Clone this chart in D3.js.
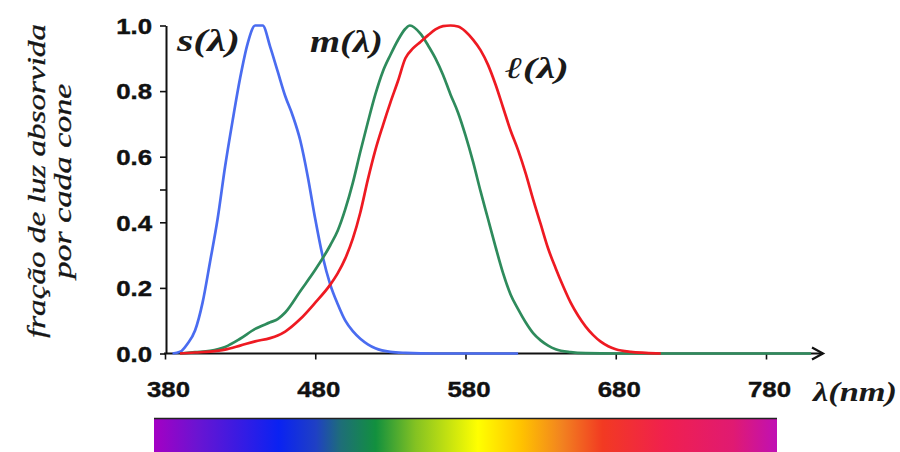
<!DOCTYPE html>
<html><head><meta charset="utf-8">
<script src="https://cdn.jsdelivr.net/npm/d3@7"></script>
<style>body{margin:0;background:#fff}svg{display:block}</style>
</head><body><svg id="c" width="900" height="452"></svg>
<script>
// ---- data ----
const xTicks = [380, 480, 580, 680, 780];
const yTicks = [0, 0.2, 0.4, 0.5, 0.6, 0.8, 1.0];
const yTickLabels = ["0.0", "0.2", "0.4", "", "0.6", "0.8", "1.0"];
const xTitle = "λ(nm)";
const yTitle = ["fração de luz absorvida", "por cada cone"];
const seriesNames = ["s(λ)", "m(λ)", "ℓ(λ)"];

const sWl  = [385,390,395,400,405,410,415,420,425,430,435,440,445,450,455,460,465,470,475,480,485,490,495,500,505,510,515,520,530,540,560,615];
const sVal = [0,0.005,0.03,0.07,0.155,0.28,0.41,0.57,0.71,0.84,0.945,1.0,1.0,0.935,0.86,0.785,0.725,0.65,0.54,0.41,0.295,0.21,0.15,0.10,0.068,0.045,0.028,0.016,0.005,0.002,0,0];

const mWl  = [390,400,410,420,430,440,450,455,460,470,480,490,495,500,505,510,515,520,525,530,535,540,543,550,555,560,565,570,575,580,585,590,595,600,605,610,615,620,625,630,635,640,650,660,680,810];
const mVal = [0,0.004,0.008,0.02,0.045,0.075,0.095,0.105,0.125,0.19,0.255,0.33,0.375,0.44,0.52,0.615,0.705,0.79,0.86,0.91,0.955,0.99,1.0,0.975,0.94,0.9,0.85,0.79,0.735,0.665,0.585,0.495,0.41,0.325,0.245,0.18,0.135,0.095,0.062,0.04,0.024,0.013,0.004,0.001,0,0];

const lWl  = [390,400,410,420,430,440,450,455,460,470,480,490,495,500,505,510,515,520,525,530,535,540,545,550,555,560,565,570,575,580,585,590,595,600,605,610,615,620,625,630,635,640,645,650,655,660,665,670,675,680,690,700,710];
const lVal = [0,0.003,0.006,0.012,0.024,0.037,0.047,0.055,0.067,0.105,0.155,0.21,0.245,0.29,0.35,0.43,0.53,0.62,0.695,0.765,0.83,0.9,0.93,0.95,0.97,0.988,0.998,1.0,0.997,0.982,0.957,0.925,0.88,0.82,0.75,0.68,0.62,0.55,0.47,0.395,0.32,0.26,0.205,0.155,0.115,0.082,0.056,0.036,0.022,0.013,0.005,0.002,0];

const spectrumStops = [
  [0, "#a400c4"], [0.07, "#6a14d2"], [0.2, "#0a22f2"], [0.26, "#1f40c4"],
  [0.3, "#1e6e78"], [0.356, "#12903e"], [0.42, "#84c222"], [0.52, "#ffff00"],
  [0.59, "#ffc200"], [0.655, "#f28220"], [0.72, "#f23a22"], [0.82, "#f0204e"],
  [0.93, "#e01a72"], [1, "#c010b4"]
];

// ---- drawing ----
const svg = d3.select("#c");
const x = d3.scaleLinear().domain([380, 780]).range([165, 766]);
const y = d3.scaleLinear().domain([0, 1]).range([353.5, 25.5]);
const labelFont = "'Liberation Sans', Arial, sans-serif";
const serif = "'Liberation Serif', 'Times New Roman', serif";

// Y axis
const yAx = svg.append("g").attr("transform", "translate(166,0)")
  .call(d3.axisLeft(y).tickValues(yTicks).tickSize(6).tickSizeOuter(0)
    .tickFormat((d, i) => yTickLabels[i]));
yAx.select(".domain").attr("stroke", "#111").attr("stroke-width", 2);
yAx.selectAll(".tick line").attr("stroke", "#111").attr("stroke-width", 1.6);
yAx.selectAll(".tick text")
  .attr("x", -11.6).attr("dy", "0.36em")
  .attr("transform", "scale(1.2,1)")
  .attr("font-family", labelFont).attr("font-weight", "bold")
  .attr("font-size", 21.5).attr("fill", "#111")
  .attr("stroke", "#111").attr("stroke-width", 0.4);

// X axis
const xAx = svg.append("g").attr("transform", "translate(0,353.5)")
  .call(d3.axisBottom(x).tickValues(xTicks).tickSize(6).tickSizeOuter(0)
    .tickFormat(d3.format("d")));
xAx.select(".domain").remove();
xAx.selectAll(".tick line").attr("stroke", "#111").attr("stroke-width", 1.6);
xAx.selectAll(".tick text")
  .attr("x", 2.5).attr("y", 43.5).attr("dy", null)
  .attr("transform", "scale(1.2,1)")
  .attr("font-family", labelFont).attr("font-weight", "bold")
  .attr("font-size", 21.5).attr("fill", "#111")
  .attr("stroke", "#111").attr("stroke-width", 0.4);

const axisEnd = x(780) + 57;
svg.append("line").attr("x1", x(380) - 1).attr("x2", axisEnd)
  .attr("y1", y(0)).attr("y2", y(0)).attr("stroke", "#111").attr("stroke-width", 2.2);
svg.append("path")
  .attr("d", `M${axisEnd - 11},${y(0) - 6} L${axisEnd},${y(0)} L${axisEnd - 11},${y(0) + 6}`)
  .attr("fill", "none").attr("stroke", "#111").attr("stroke-width", 2.2);

// curves
const line = d3.line().x(d => x(d[0])).y(d => y(d[1])).curve(d3.curveMonotoneX);
const series = [
  {wl: sWl, v: sVal, color: "#4a6cf0"},
  {wl: mWl, v: mVal, color: "#2e8b5c"},
  {wl: lWl, v: lVal, color: "#ee1a22"}
];
series.forEach(s => {
  svg.append("path").datum(s.wl.map((w, i) => [w, s.v[i]]))
    .attr("d", line).attr("fill", "none")
    .attr("stroke", s.color).attr("stroke-width", 2.7)
    .attr("stroke-linejoin", "round");
});

// series labels
const lbl = [
  {t: seriesNames[0], x: 177, y: 51, len: 63, size: 32},
  {t: seriesNames[1], x: 310, y: 52, len: 73, size: 32},
  {t: seriesNames[2], x: 505, y: 78, len: 64, size: 30}
];
lbl.forEach(l => {
  svg.append("text").text(l.t).attr("x", l.x).attr("y", l.y)
    .attr("font-family", serif).attr("font-style", "italic").attr("font-weight", "bold")
    .attr("font-size", l.size).attr("fill", "#1a1a1a")
    .attr("textLength", l.len).attr("lengthAdjust", "spacingAndGlyphs");
});

// x title
svg.append("text").text(xTitle).attr("x", 813).attr("y", 401)
  .attr("font-family", serif).attr("font-style", "italic").attr("font-weight", "bold")
  .attr("font-size", 28).attr("fill", "#1a1a1a")
  .attr("textLength", 84).attr("lengthAdjust", "spacingAndGlyphs");

// y title
const yt = [{t: yTitle[0], bx: 45, len: 314}, {t: yTitle[1], bx: 71, len: 195}];
yt.forEach(l => {
  svg.append("text").text(l.t)
    .attr("transform", `translate(${l.bx},181) rotate(-90)`)
    .attr("text-anchor", "middle")
    .attr("font-family", serif).attr("font-style", "italic")
    .attr("font-size", 26).attr("fill", "#161616")
    .attr("stroke", "#161616").attr("stroke-width", 0.3)
    .attr("textLength", l.len).attr("lengthAdjust", "spacingAndGlyphs");
});

// spectrum bar
const grad = svg.append("defs").append("linearGradient").attr("id", "spec")
  .attr("x1", "0%").attr("x2", "100%").attr("y1", "0%").attr("y2", "0%");
spectrumStops.forEach(s => grad.append("stop").attr("offset", s[0]).attr("stop-color", s[1]));
svg.append("rect").attr("x", 154).attr("y", 418).attr("width", 623).attr("height", 40)
  .attr("fill", "url(#spec)");
svg.append("line").attr("x1", 154).attr("x2", 777).attr("y1", 418.5).attr("y2", 418.5)
  .attr("stroke", "#222").attr("stroke-width", 1.5);
</script></body></html>
